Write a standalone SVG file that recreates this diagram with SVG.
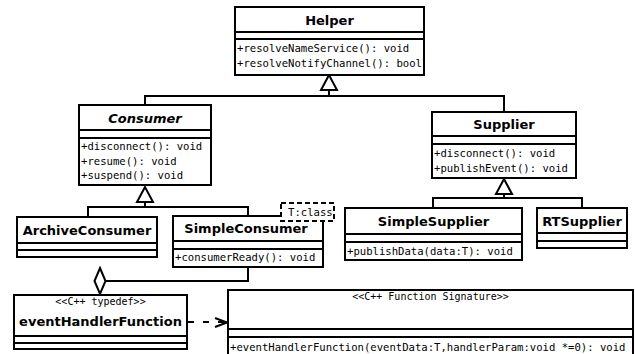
<svg xmlns="http://www.w3.org/2000/svg" width="635" height="354" viewBox="0 0 635 354">
<style>
.box{fill:#fff;stroke:#000;stroke-width:2}
.sep{stroke:#000;stroke-width:2}
.name{font-family:"DejaVu Sans",sans-serif;font-weight:bold;font-size:13px;text-anchor:middle}
.abs{font-style:italic}
.op{font-family:"DejaVu Sans Mono",monospace;font-size:10.6px}
.st{font-family:"DejaVu Sans Mono",monospace;font-size:10px;text-anchor:middle}
.conn{fill:none;stroke:#000;stroke-width:2}
.head{fill:#fff;stroke:#000;stroke-width:2}
.dash{fill:none;stroke:#000;stroke-width:2;stroke-dasharray:6,9}
.tpl{fill:#fff;stroke:#000;stroke-width:2;stroke-dasharray:5,3}
</style>
<g id="connectors">
<path class="conn" d="M145,105 V96 H504 V112 M329,90 V96"/>
<polygon class="head" points="329,75 321,90 337,90"/>
<path class="conn" d="M88,217 V207 H248 V216 M145,202 V207"/>
<polygon class="head" points="145,187 137,202 153,202"/>
<path class="conn" d="M433,208 V198 H582 V208 M504,194 V198"/>
<polygon class="head" points="504,179 496,194 512,194"/>
<path class="conn" d="M248,267 V281 H105"/>
<polygon class="head" points="100,268 105.5,281 100,294 94.5,281"/>
<path class="dash" d="M188,322 H226"/>
<path class="conn" d="M215,318 L227,322.5 L215,327"/>
</g>
<g id="Helper">
<rect class="box" x="235" y="7" width="189" height="68"/>
<path class="sep" d="M235,32 H424 M235,39 H424"/>
<text class="name" x="329.5" y="25">Helper</text>
<text class="op" x="237" y="52">+resolveNameService(): void</text>
<text class="op" x="237" y="67">+resolveNotifyChannel(): bool</text>
</g>
<g id="Consumer">
<rect class="box" x="79" y="105" width="132" height="80"/>
<path class="sep" d="M79,130 H211 M79,138 H211"/>
<text class="name abs" x="145" y="123">Consumer</text>
<text class="op" x="81" y="150">+disconnect(): void</text>
<text class="op" x="81" y="164.5">+resume(): void</text>
<text class="op" x="81" y="179">+suspend(): void</text>
</g>
<g id="Supplier">
<rect class="box" x="432" y="112" width="144" height="66"/>
<path class="sep" d="M432,136 H576 M432,144 H576"/>
<text class="name" x="504" y="129">Supplier</text>
<text class="op" x="434" y="157">+disconnect(): void</text>
<text class="op" x="434" y="171.5">+publishEvent(): void</text>
</g>
<g id="ArchiveConsumer">
<rect class="box" x="17" y="217" width="140" height="40"/>
<path class="sep" d="M17,243 H157 M17,250 H157"/>
<text class="name" x="87" y="235">ArchiveConsumer</text>
</g>
<g id="SimpleConsumer">
<rect class="box" x="173" y="216" width="150" height="51"/>
<path class="sep" d="M173,241 H323 M173,249 H323"/>
<text class="name" x="246" y="233">SimpleConsumer</text>
<text class="op" x="175" y="261">+consumerReady(): void</text>
<rect class="tpl" x="281" y="203" width="53" height="18"/>
<text class="op" x="288" y="216">T:class</text>
</g>
<g id="SimpleSupplier">
<rect class="box" x="345" y="208" width="177" height="52"/>
<path class="sep" d="M345,234 H522 M345,242 H522"/>
<text class="name" x="433.5" y="226">SimpleSupplier</text>
<text class="op" x="347" y="255">+publishData(data:T): void</text>
</g>
<g id="RTSupplier">
<rect class="box" x="537" y="208" width="90" height="40"/>
<path class="sep" d="M537,233 H627 M537,241 H627"/>
<text class="name" x="582" y="226">RTSupplier</text>
</g>
<g id="eventHandlerFunction">
<rect class="box" x="14" y="295" width="173" height="54"/>
<path class="sep" d="M14,336 H187 M14,343 H187"/>
<text class="st" x="100.5" y="305">&lt;&lt;C++ typedef&gt;&gt;</text>
<text class="name" x="100.5" y="326">eventHandlerFunction</text>
</g>
<g id="FunctionSignature">
<rect class="box" x="228" y="290" width="405" height="72"/>
<path class="sep" d="M228,329 H633 M228,337 H633"/>
<text class="st" x="430.5" y="300">&lt;&lt;C++ Function Signature&gt;&gt;</text>
<text class="op" x="230" y="351">+eventHandlerFunction(eventData:T,handlerParam:void *=0): void</text>
</g>
</svg>
